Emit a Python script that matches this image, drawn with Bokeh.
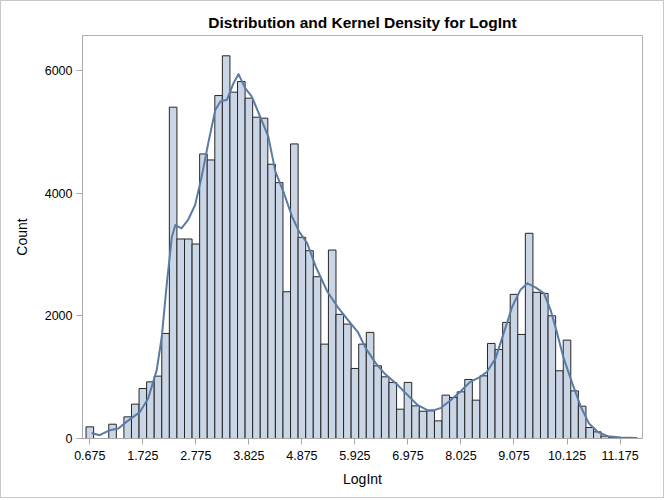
from bokeh.plotting import figure
from bokeh.models import FixedTicker, PrintfTickFormatter, Range1d
from bokeh.embed import file_html
from bokeh.resources import INLINE

# Histogram of LogInt: bins of width 0.15, first bin centred at 0.675
bin_start = 0.6
bin_width = 0.15
counts = [190, 0, 0, 233, 0, 353, 560, 815, 924, 1017,
          1713, 5402, 3253, 3253, 3171, 4640, 4542, 5592, 6240, 5647,
          5820, 5549, 5239, 5223, 4472, 4172, 2393, 4803, 3280, 3062,
          2638, 1539, 3073, 2024, 1866, 1142, 1539, 1730, 1185, 1006,
          914, 478, 914, 532, 445, 451, 288, 707, 669, 761,
          963, 625, 1022, 1550, 1452, 1893, 2350, 1697, 3346, 2383,
          2366, 2001, 1104, 1604, 777, 527, 179, 109, 38, 12, 5]

# Kernel density estimate (scaled to counts)
kde_x = [0.709, 0.87, 1.07, 1.24, 1.40, 1.67, 1.83, 2.00, 2.10, 2.20,
         2.30, 2.37, 2.49, 2.62, 2.76, 2.89, 3.02, 3.16, 3.26, 3.39,
         3.52, 3.62, 3.75, 3.88, 4.05, 4.21, 4.35, 4.52, 4.68, 4.82,
         4.98, 5.15, 5.38, 5.58, 5.84, 5.98, 6.14, 6.34, 6.51, 6.74,
         6.97, 7.17, 7.36, 7.50, 7.63, 7.82, 8.01, 8.21, 8.41, 8.54,
         8.71, 8.87, 9.04, 9.20, 9.34, 9.50, 9.67, 9.80, 9.93, 10.06,
         10.23, 10.40, 10.56, 10.73, 10.93, 11.19, 11.52]
kde_y = [91, 54, 135, 163, 271, 435, 653, 1115, 1659, 2530,
         3290, 3480, 3427, 3563, 3808, 4270, 4814, 5358, 5494, 5522,
         5794, 5941, 5712, 5580, 5245, 4922, 4351, 3999, 3617, 3372,
         3183, 2801, 2393, 2148, 1877, 1740, 1469, 1224, 1061, 898,
         707, 543, 462, 462, 500, 625, 761, 924, 1006, 1087,
         1306, 1714, 2148, 2420, 2530, 2464, 2366, 2094, 1714, 1306,
         898, 516, 245, 109, 38, 16, 8]

x_ticks = [0.675, 1.725, 2.775, 3.825, 4.875, 5.925, 6.975, 8.025, 9.075, 10.125, 11.175]
y_ticks = [0, 2000, 4000, 6000]

left = [bin_start + i * bin_width for i in range(len(counts))]
right = [l + bin_width for l in left]

FONT = "Liberation Sans"

p = figure(width=664, height=498, output_backend="svg", toolbar_location=None,
           x_range=Range1d(0.53, 11.62), y_range=Range1d(0, 6571),
           min_border_left=81, min_border_right=23, min_border_top=34, min_border_bottom=61,
           title="Distribution and Kernel Density for LogInt")
p.styles = {"border": "1px solid #C8C8C8"}

p.quad(left=left, right=right, bottom=0, top=counts,
       fill_color="#CAD5E5", line_color="#262626", line_width=1)
p.line(kde_x, kde_y, line_color="#5A7BA6", line_width=2, line_join="round")

p.title.align = "center"
p.title.text_font = FONT
p.title.text_font_size = "15.5px"
p.title.text_font_style = "bold"
p.title.text_color = "#000000"

p.xgrid.visible = False
p.ygrid.visible = False
p.outline_line_color = "#B0B0B0"
p.background_fill_color = "white"
p.border_fill_color = "white"

for ax in (p.xaxis[0], p.yaxis[0]):
    ax.axis_line_color = "#A8A8A8"
    ax.major_tick_line_color = "#A8A8A8"
    ax.major_tick_out = 6
    ax.major_tick_in = 0
    ax.minor_tick_line_color = None
    ax.major_label_text_font = FONT
    ax.major_label_text_font_size = "12.5px"
    ax.major_label_text_color = "#000000"
    ax.axis_label_text_font = FONT
    ax.axis_label_text_font_size = "14px"
    ax.axis_label_text_font_style = "normal"
    ax.axis_label_text_color = "#000000"

p.xaxis.ticker = FixedTicker(ticks=x_ticks)
p.xaxis.formatter = PrintfTickFormatter(format="%.3f")
p.xaxis.axis_label = "LogInt"
p.xaxis.major_label_standoff = 6
p.xaxis.axis_label_standoff = 8

p.yaxis.ticker = FixedTicker(ticks=y_ticks)
p.yaxis.formatter = PrintfTickFormatter(format="%d")
p.yaxis.axis_label = "Count"
p.yaxis.major_label_standoff = 4
p.yaxis.axis_label_standoff = 12

open("out.html", "w").write(file_html(p, INLINE))
